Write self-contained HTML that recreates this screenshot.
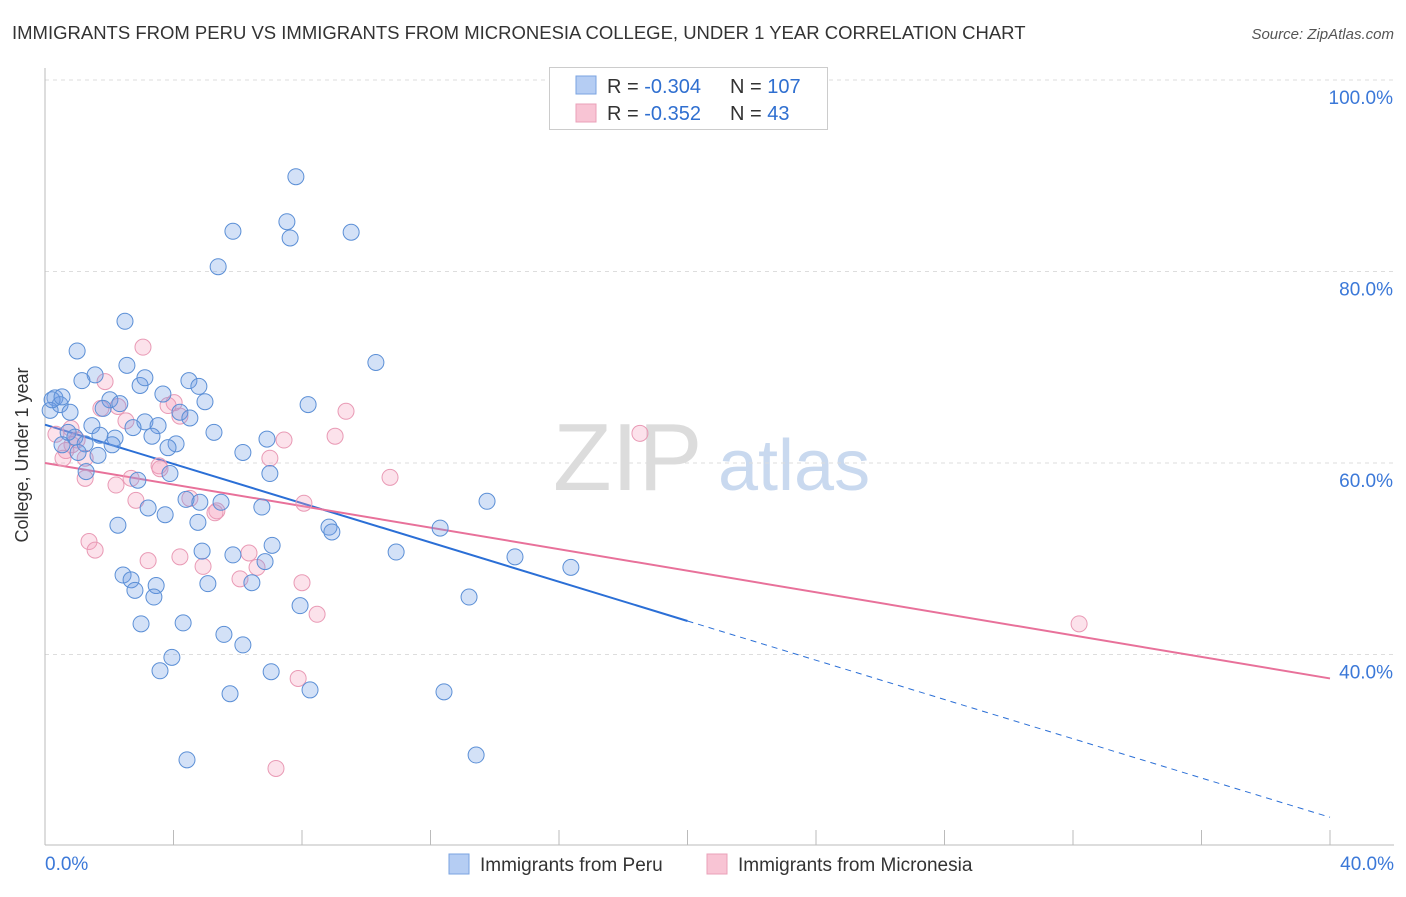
<!DOCTYPE html>
<html><head><meta charset="utf-8"><style>
body{margin:0;background:#fff;font-family:"Liberation Sans",sans-serif;}
svg text{font-family:"Liberation Sans",sans-serif;}
</style></head><body>
<svg id="chart" width="1406" height="892" viewBox="0 0 1406 892" xmlns="http://www.w3.org/2000/svg">
<text x="12" y="39" font-size="18.5" fill="#333">IMMIGRANTS FROM PERU VS IMMIGRANTS FROM MICRONESIA COLLEGE, UNDER 1 YEAR CORRELATION CHART</text>
<text x="1394" y="39" font-size="15" fill="#555" text-anchor="end" font-style="italic">Source: ZipAtlas.com</text>
<g>
<text x="553" y="490" font-size="96" fill="#dcdcdc" font-family="Liberation Serif">ZIP</text>
<text x="718" y="490" font-size="72" fill="#c9d9ef">atlas</text>
</g>
<g id="grid"></g>
<g id="axes"></g>
<g id="lines"></g>
<g id="pts"></g>
<text x="28" y="455" font-size="18" fill="#333" text-anchor="middle" transform="rotate(-90 28 455)">College, Under 1 year</text>
<g>
<rect x="549.5" y="67.5" width="278" height="62" fill="#fff" stroke="#ccc"/>
<rect x="576" y="76" width="20" height="18" fill="#b5cdf3" stroke="#7aa3e0"/>
<rect x="576" y="104" width="20" height="18" fill="#f8c4d4" stroke="#eaa0b8"/>
<text x="607" y="93" font-size="20" fill="#333">R = <tspan fill="#2f6fd0">-0.304</tspan></text>
<text x="730" y="93" font-size="20" fill="#333">N = <tspan fill="#2f6fd0">107</tspan></text>
<text x="607" y="120" font-size="20" fill="#333">R = <tspan fill="#2f6fd0"> -0.352</tspan></text>
<text x="730" y="120" font-size="20" fill="#333">N = <tspan fill="#2f6fd0">  43</tspan></text>
</g>
<g>
<rect x="449" y="854" width="20" height="20" fill="#b5cdf3" stroke="#7aa3e0"/>
<text x="480" y="871" font-size="19" fill="#333">Immigrants from Peru</text>
<rect x="707" y="854" width="20" height="20" fill="#f8c4d4" stroke="#eaa0b8"/>
<text x="738" y="871" font-size="19" fill="#333">Immigrants from Micronesia</text>
</g>
</svg>
<script>
const yTicks=[100,80,60,40];
const xTickLabels=["0.0%","40.0%"];
const peruX=[7.81,7.53,7.63,5.85,9.53,5.39,2.49,10.30,1.00,2.55,1.56,1.15,2.96,4.48,4.79,3.11,3.67,4.98,8.19,0.31,0.47,0.78,0.16,0.22,0.53,2.02,2.33,1.81,4.20,4.51,3.11,3.52,2.74,5.26,3.33,1.46,1.71,2.18,0.93,0.72,1.25,2.09,4.08,3.83,0.53,1.03,1.65,6.16,6.91,7.00,3.89,1.28,2.89,4.39,4.82,5.48,3.21,3.74,4.76,6.75,2.27,8.84,8.93,12.30,13.76,4.89,5.85,6.85,7.07,6.44,5.07,10.93,14.63,16.37,2.43,2.68,2.80,3.46,3.39,7.94,13.20,2.99,4.30,5.57,6.16,3.95,3.58,7.04,5.76,8.25,12.42,4.42,13.42];
const peruY=[89.9,85.2,83.5,84.2,84.1,80.5,74.8,70.5,71.7,70.2,69.2,68.6,68.1,68.6,68.0,68.9,67.2,66.4,66.1,66.8,66.1,65.3,65.5,66.6,66.9,66.6,66.2,65.7,65.3,64.7,64.3,63.9,63.7,63.2,62.8,63.9,62.9,62.6,62.7,63.2,62.0,61.9,62.0,61.6,61.9,61.1,60.8,61.1,62.5,58.9,58.9,59.1,58.2,56.2,55.9,55.9,55.3,54.6,53.8,55.4,53.5,53.3,52.8,53.2,56.0,50.8,50.4,49.7,51.4,47.5,47.4,50.7,50.2,49.1,48.3,47.8,46.7,47.2,46.0,45.1,46.0,43.2,43.3,42.1,41.0,39.7,38.3,38.2,35.9,36.3,36.1,29.0,29.5];
const micX=[3.05,1.87,4.02,1.74,3.83,2.27,2.52,4.20,0.34,0.81,0.84,1.00,0.65,0.56,1.25,3.55,3.58,7.44,7.00,10.74,9.37,9.03,18.52,1.25,2.83,2.21,2.68,5.35,5.29,8.06,4.51,1.37,1.56,3.21,4.20,6.35,6.07,6.60,4.92,8.00,8.47,7.88,7.19,32.19];
const micY=[72.1,68.5,66.3,65.7,66.0,65.9,64.4,64.9,63.0,63.6,61.9,62.4,61.3,60.5,60.5,59.7,59.4,62.4,60.5,58.5,65.4,62.8,63.1,58.4,56.1,57.7,58.4,55.0,54.8,55.8,56.3,51.8,50.9,49.8,50.2,50.6,47.9,49.1,49.2,47.5,44.2,37.5,28.1,43.2];
const peruTrend=[64.0,43.5,23.0]; // values at x=0,20,40
const micTrend=[60.0,37.5]; // values at x=0,40
const NS="http://www.w3.org/2000/svg";
const X=v=>45+v*32.125, Y=v=>80+(100-v)*9.575;
function mk(t,a,p){const e=document.createElementNS(NS,t);for(const k in a)e.setAttribute(k,a[k]);p.appendChild(e);return e;}
const grid=document.getElementById('grid'),axes=document.getElementById('axes'),lines=document.getElementById('lines'),pts=document.getElementById('pts');
yTicks.forEach(t=>{
 const l=mk('line',{x1:45,x2:1394,y1:Y(t),y2:Y(t),stroke:'#ddd','stroke-dasharray':'4,4'},grid);
 
 
 const tx=mk('text',{x:1393,y:Y(t)+24,'font-size':19,fill:'#3b78d8','text-anchor':'end'},axes);
 tx.textContent=t.toFixed(1)+'%';
 
 
});
let a=mk('line',{x1:45,x2:45,y1:68,y2:845,stroke:'#bbb'},axes);

a=mk('line',{x1:45,x2:1394,y1:845,y2:845,stroke:'#bbb'},axes);

for(let i=1;i<=10;i++){const t=mk('line',{x1:X(i*4),x2:X(i*4),y1:830,y2:845,stroke:'#bbb'},axes);
 }
[[0,'start',45],[40,'end',1394]].forEach((d,i)=>{const t=mk('text',{x:d[2],y:870,'font-size':19,fill:'#3b78d8','text-anchor':d[1]},axes);t.textContent=xTickLabels[i];
 });
function dot(x,y,f,s){const c=mk('circle',{cx:X(x),cy:Y(y),r:8,fill:f,stroke:s,'stroke-width':1},pts);return c;}
micX.forEach((x,i)=>{const c=dot(x,micY[i],'rgba(244,160,190,0.3)','#e99ab5');
 });
peruX.forEach((x,i)=>{const c=dot(x,peruY[i],'rgba(110,155,230,0.3)','#5b8fd6');
 });
let l=mk('line',{x1:X(0),y1:Y(peruTrend[0]),x2:X(20),y2:Y(peruTrend[1]),stroke:'#2b6fd6','stroke-width':2},lines);

l=mk('line',{x1:X(20),y1:Y(peruTrend[1]),x2:X(40),y2:Y(peruTrend[2]),stroke:'#2b6fd6','stroke-width':1,'stroke-dasharray':'6,5'},lines);

l=mk('line',{x1:X(0),y1:Y(micTrend[0]),x2:X(40),y2:Y(micTrend[1]),stroke:'#e8719a','stroke-width':2},lines);

</script>
</body></html>
